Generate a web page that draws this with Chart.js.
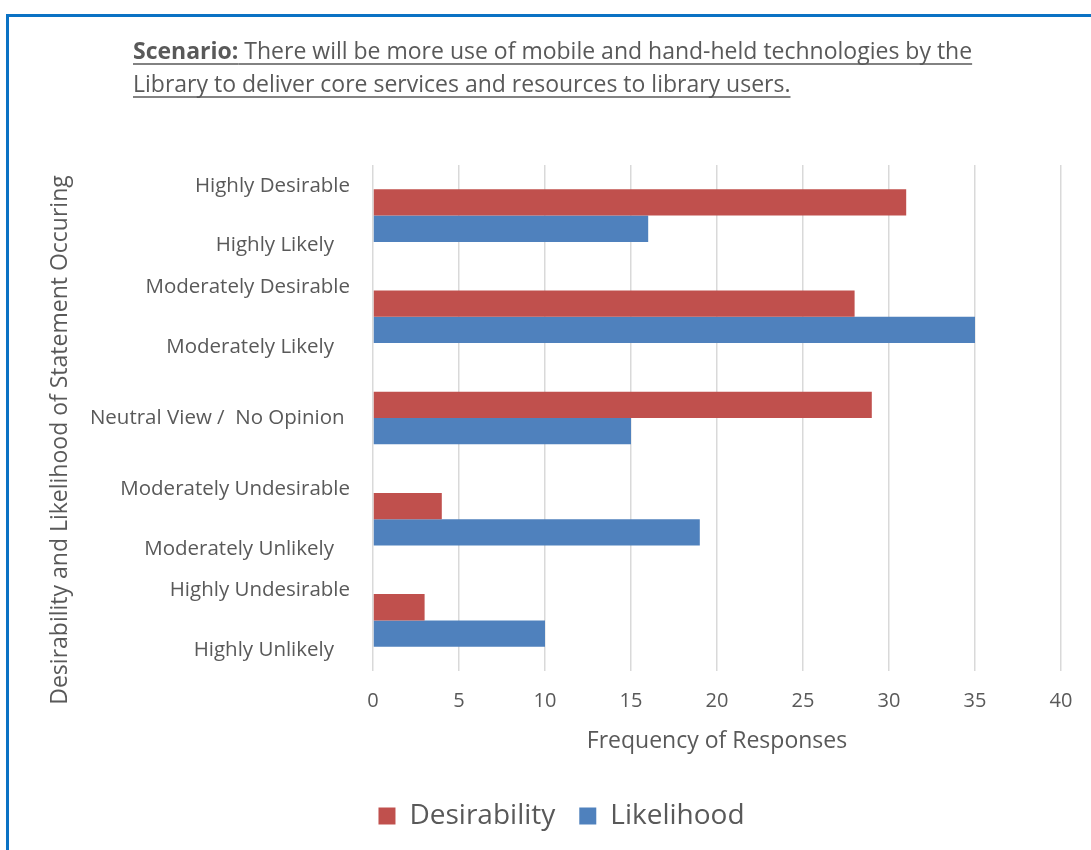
<!DOCTYPE html>
<html>
<head>
<meta charset="utf-8">
<script src="https://cdn.jsdelivr.net/npm/chart.js@4.4.1/dist/chart.umd.min.js"></script>
<style>
  body { margin: 0; background: #ffffff; }
  #frame { position: absolute; left: 6px; top: 14px; right: 0; bottom: 0;
           border-left: 3px solid #0B72C4; border-top: 3px solid #0B72C4; }
  #wrap { position: absolute; left: 0; top: 0; width: 1091px; height: 850px; }
</style>
</head>
<body>
<div id="frame"></div>
<div id="wrap"><canvas id="myChart" width="1091" height="850"></canvas></div>
<script>
var categories = [
    ['Highly Desirable', '', 'Highly Likely   '],
    ['Moderately Desirable', '', 'Moderately Likely   '],
    ['Neutral View /  No Opinion '],
    ['Moderately Undesirable', '', 'Moderately Unlikely   '],
    ['Highly Undesirable', '', 'Highly Unlikely   ']
];
var desirability = [31, 28, 29, 4, 3];
var likelihood = [16, 35, 15, 19, 10];
var xTicks = [0, 5, 10, 15, 20, 25, 30, 35, 40];

var titleLines = [
    [['Scenario:', true], [' There will be more use of mobile and hand-held technologies by the', false]],
    [['Library to deliver core services and resources to library users.', false]]
];
var yTitle = 'Desirability and Likelihood of Statement Occuring';

var textColor = '#595959';
var fontFamily = '"Open Sans", "Noto Sans", sans-serif';

var extraText = {
    id: 'extraText',
    afterDraw: function(chart) {
        var c = chart.ctx;
        c.save();
        c.fillStyle = textColor;
        c.strokeStyle = textColor;
        c.textBaseline = 'alphabetic';
        // title, underlined
        var lineY = [59, 92];
        titleLines.forEach(function(parts, i) {
            var x = 133;
            parts.forEach(function(p) {
                c.font = (p[1] ? 'bold ' : '') + '23px ' + fontFamily;
                c.fillText(p[0], x, lineY[i]);
                var w = c.measureText(p[0]).width;
                c.lineWidth = 1.5;
                c.beginPath();
                c.moveTo(x, lineY[i] + 5);
                c.lineTo(x + w, lineY[i] + 5);
                c.stroke();
                x += w;
            });
        });
        // rotated y title
        c.translate(60, 440);
        c.rotate(-Math.PI / 2);
        c.textAlign = 'center';
        c.textBaseline = 'middle';
        c.font = '23px ' + fontFamily;
        c.fillText(yTitle, 0, 0);
        c.restore();
    }
};

var ctx = document.getElementById('myChart').getContext('2d');
var myBarChart = new Chart(ctx, {
    type: 'bar',
    data: {
        labels: categories,
        datasets: [
            {
                label: 'Desirability',
                data: desirability,
                backgroundColor: '#C0504D',
                categoryPercentage: 0.52,
                barPercentage: 1
            },
            {
                label: 'Likelihood',
                data: likelihood,
                backgroundColor: '#4F81BD',
                categoryPercentage: 0.52,
                barPercentage: 1
            }
        ]
    },
    options: {
        indexAxis: 'y',
        responsive: false,
        animation: false,
        layout: {
            padding: { left: 62, right: 30, top: 165, bottom: 10 }
        },
        scales: {
            x: {
                min: 0,
                max: 40,
                afterBuildTicks: function(scale) {
                    scale.ticks = xTicks.map(function(v) { return { value: v }; });
                },
                afterFit: function(scale) { scale.height = 107; },
                ticks: {
                    color: textColor,
                    padding: 18,
                    font: { family: fontFamily, size: 20 }
                },
                grid: { color: '#D9D9D9', lineWidth: 1.5, drawTicks: false },
                border: { display: false },
                title: {
                    display: true,
                    text: 'Frequency of Responses',
                    color: textColor,
                    font: { family: fontFamily, size: 23 },
                    padding: { top: 4, bottom: 23 }
                }
            },
            y: {
                afterFit: function(scale) { scale.width = 311; },
                ticks: {
                    color: textColor,
                    padding: 15,
                    font: { family: fontFamily, size: 20.5, lineHeight: 1.46 }
                },
                grid: { display: false },
                border: { display: false }
            }
        },
        plugins: {
            legend: {
                position: 'bottom',
                labels: {
                    color: textColor,
                    boxWidth: 17,
                    boxHeight: 17,
                    padding: 24,
                    font: { family: fontFamily, size: 28 }
                }
            },
            tooltip: { enabled: false }
        }
    },
    plugins: [extraText]
});
</script>
</body>
</html>
